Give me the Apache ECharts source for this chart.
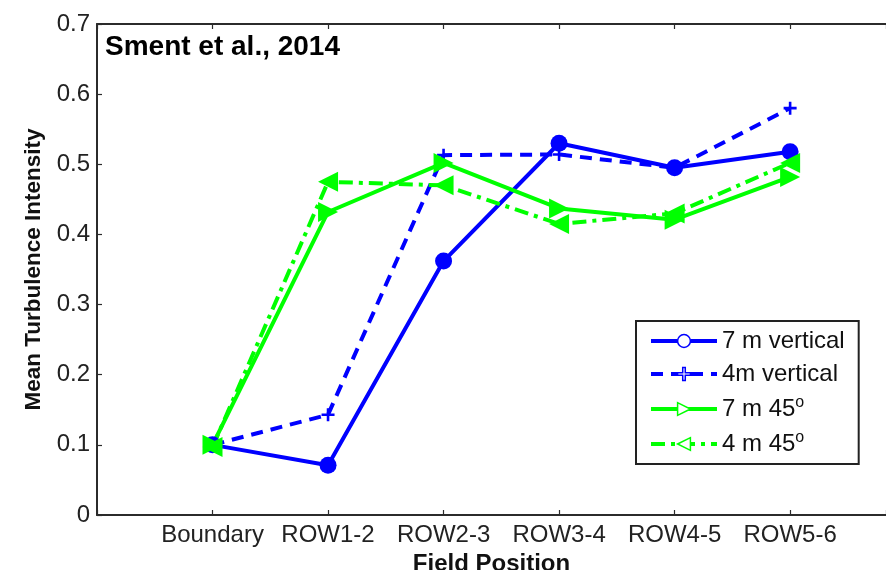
<!DOCTYPE html>
<html>
<head>
<meta charset="utf-8">
<script src="https://cdn.jsdelivr.net/npm/echarts@6/dist/echarts.min.js"></script>
<style>
  html, body { margin: 0; padding: 0; background: #fff; }
  #main { width: 886px; height: 570px; }
</style>
</head>
<body>
<div id="main"></div>
<script>
  // field positions along the x axis (placed at 1..6)
  var categories = ['Boundary', 'ROW1-2', 'ROW2-3', 'ROW3-4', 'ROW4-5', 'ROW5-6'];
  var yTicks = [0, 0.1, 0.2, 0.3, 0.4, 0.5, 0.6, 0.7];

  var vert7m = [0.100, 0.071, 0.362, 0.530, 0.495, 0.518];
  var vert4m = [0.100, 0.143, 0.513, 0.514, 0.495, 0.580];
  var deg45_7m = [0.100, 0.432, 0.502, 0.437, 0.421, 0.482];
  var deg45_4m = [0.097, 0.475, 0.470, 0.415, 0.430, 0.502];

  var BLUE = '#0000ff';
  var GREEN = '#00ff00';
  var AXIS = '#2b2b2b';
  var FONT = 'Liberation Sans, Arial, sans-serif';

  function pairs (vals) {
    return vals.map(function (v, i) { return [i + 1, v]; });
  }

  function hollow (name, color) {
    return { name: name, itemStyle: { color: '#fff', borderColor: color, borderWidth: 1.5 } };
  }

  var plusPath = 'path://M4,0 L6,0 L6,4 L10,4 L10,6 L6,6 L6,10 L4,10 L4,6 L0,6 L0,4 L4,4 Z';

  var option = {
    animation: false,
    backgroundColor: '#fff',
    grid: { left: 97, top: 24, right: 0, bottom: 55, outerBoundsMode: 'none', containLabel: false },
    graphic: [
      {
        type: 'text',
        left: 105,
        top: 33,
        style: { text: 'Sment et al., 2014', font: 'bold 28px ' + FONT, fill: '#000' }
      }
    ],
    legend: {
      orient: 'vertical',
      left: 636,
      top: 321,
      padding: [8, 14, 8, 13],
      itemGap: 9,
      itemWidth: 66,
      itemHeight: 16,
      borderColor: '#222',
      borderWidth: 2,
      borderRadius: 0,
      backgroundColor: '#fff',
      lineStyle: { width: 4 },
      textStyle: {
        fontFamily: FONT,
        fontSize: 24,
        color: '#111',
        rich: {
          sup: { fontFamily: FONT, fontSize: 16, color: '#111', verticalAlign: 'top', padding: [0, 0, 12, 0] }
        }
      },
      formatter: function (name) {
        return name.replace('°', '{sup|o}');
      },
      data: [
        hollow('7 m vertical', BLUE),
        hollow('4m vertical', BLUE),
        hollow('7 m 45°', GREEN),
        hollow('4 m 45°', GREEN)
      ]
    },
    xAxis: [
      {
        type: 'value',
        min: 0,
        max: 6.83,
        interval: 1,
        name: 'Field Position',
        nameLocation: 'middle',
        nameGap: 30,
        nameTextStyle: { fontFamily: FONT, fontSize: 24, fontWeight: 'bold', color: '#111' },
        axisLine: { onZero: false, lineStyle: { color: AXIS, width: 2 } },
        axisTick: { inside: true, length: 5, lineStyle: { color: AXIS, width: 1.2 } },
        splitLine: { show: false },
        axisLabel: {
          margin: 8,
          fontFamily: FONT,
          fontSize: 24,
          color: '#222',
          formatter: function (v) { return Number.isInteger(v) ? (categories[v - 1] || '') : ''; }
        }
      },
      {
        type: 'value',
        position: 'top',
        min: 0,
        max: 6.83,
        interval: 1,
        axisLine: { onZero: false, lineStyle: { color: AXIS, width: 2 } },
        axisTick: { inside: true, length: 5, lineStyle: { color: AXIS, width: 1.2 } },
        axisLabel: { show: false },
        splitLine: { show: false }
      }
    ],
    yAxis: {
      type: 'value',
      min: 0,
      max: 0.7,
      interval: 0.1,
      name: 'Mean Turbulence Intensity',
      nameLocation: 'middle',
      nameGap: 52,
      nameRotate: 90,
      nameTextStyle: { fontFamily: FONT, fontSize: 22.5, fontWeight: 'bold', color: '#111' },
      axisLine: { show: true, lineStyle: { color: AXIS, width: 2 } },
      axisTick: { show: true, inside: true, length: 5, lineStyle: { color: AXIS, width: 1.2 } },
      splitLine: { show: false },
      axisLabel: {
        margin: 7,
        fontFamily: FONT,
        fontSize: 24,
        color: '#222',
        formatter: function (v) {
          var t = yTicks.filter(function (k) { return Math.abs(k - v) < 1e-6; })[0];
          return t === 0 ? '0' : String(t);
        }
      }
    },
    series: [
      {
        name: '7 m vertical',
        type: 'line',
        data: pairs(vert7m),
        symbol: 'circle',
        symbolSize: 17,
        itemStyle: { color: BLUE },
        lineStyle: { color: BLUE, width: 4 }
      },
      {
        name: '4m vertical',
        type: 'line',
        data: pairs(vert4m),
        symbol: plusPath,
        symbolSize: 13,
        itemStyle: { color: BLUE },
        lineStyle: { color: BLUE, width: 4, type: [12, 8] }
      },
      {
        name: '7 m 45°',
        type: 'line',
        data: pairs(deg45_7m),
        symbol: 'triangle',
        symbolRotate: -90,
        symbolSize: 20,
        itemStyle: { color: GREEN },
        lineStyle: { color: GREEN, width: 4 }
      },
      {
        name: '4 m 45°',
        type: 'line',
        data: pairs(deg45_4m),
        symbol: 'triangle',
        symbolRotate: 90,
        symbolSize: 20,
        itemStyle: { color: GREEN },
        lineStyle: { color: GREEN, width: 4, type: [14, 6, 4, 6] }
      }
    ]
  };

  var chart = echarts.init(document.getElementById('main'));
  chart.setOption(option);
</script>
</body>
</html>
